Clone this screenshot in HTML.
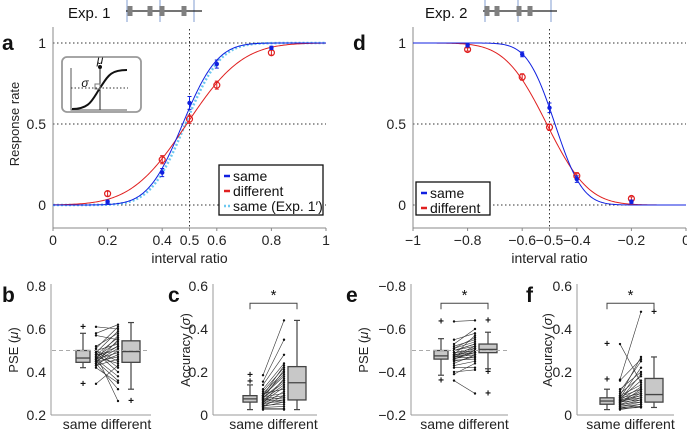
<!DOCTYPE html>
<html><head><meta charset="utf-8"><style>
body{margin:0;background:#fff;}
svg{display:block;font-family:"Liberation Sans",sans-serif;}
</style></head><body>
<svg id="fig" width="687" height="432" viewBox="0 0 687 432" xmlns="http://www.w3.org/2000/svg">
<g id="static"></g>
</svg>
<script>
// ---- Data ----
const stimA = [0.2, 0.4, 0.5, 0.6, 0.8];
const sameA = [0.02, 0.2, 0.63, 0.87, 0.97];
const sameAErr = [0.01, 0.025, 0.04, 0.025, 0.01];
const diffA = [0.07, 0.28, 0.53, 0.74, 0.94];
const diffAErr = [0.015, 0.025, 0.025, 0.025, 0.015];
const fitSameA = [0.475, 0.1];
const fitDiffA = [0.49, 0.16];
const fitSame1pA = [0.485, 0.1];
const stimD = [-0.8, -0.6, -0.5, -0.4, -0.2];
const sameD = [0.985, 0.93, 0.6, 0.16, 0.02];
const sameDErr = [0.01, 0.015, 0.03, 0.02, 0.01];
const diffD = [0.96, 0.79, 0.48, 0.18, 0.04];
const diffDErr = [0.01, 0.02, 0.02, 0.02, 0.01];
const fitSameD = [-0.48, 0.08];
const fitDiffD = [-0.51, 0.12];
const xTicksA = [0, 0.2, 0.4, 0.5, 0.6, 0.8, 1];
const xTickLabelsA = ["0","0.2","0.4","0.5","0.6","0.8","1"];
const xTicksD = [-1, -0.8, -0.6, -0.5, -0.4, -0.2, 0];
const xTickLabelsD = ["\u22121","\u22120.8","\u22120.6","\u22120.5","\u22120.4","\u22120.2","0"];
const yTicks = [0, 0.5, 1];
const yTickLabels = ["0","0.5","1"];
// box stats: [lowWhisker, q1, median, q3, highWhisker]
const boxB_same = [0.42, 0.445, 0.465, 0.5, 0.58];
const boxB_diff = [0.32, 0.445, 0.495, 0.545, 0.63];
const outB_same = [0.61, 0.345];
const outB_diff = [0.265];
const pairB_same = [0.61,0.58,0.57,0.52,0.51,0.5,0.5,0.49,0.49,0.48,0.48,0.47,0.47,0.47,0.46,0.46,0.46,0.45,0.45,0.45,0.44,0.44,0.44,0.43,0.43,0.42,0.345,0.48,0.46,0.5];
const pairB_diff = [0.6,0.62,0.55,0.58,0.61,0.53,0.45,0.59,0.4,0.56,0.5,0.54,0.52,0.44,0.57,0.49,0.38,0.51,0.47,0.36,0.48,0.55,0.32,0.5,0.46,0.35,0.43,0.265,0.52,0.42];
const boxC_same = [0.025, 0.06, 0.075, 0.09, 0.14];
const boxC_diff = [0.025, 0.07, 0.15, 0.225, 0.44];
const outC_same = [0.155, 0.185];
const outC_diff = [];
const pairC_same = [0.185,0.155,0.14,0.12,0.11,0.1,0.1,0.09,0.09,0.085,0.08,0.08,0.075,0.075,0.07,0.07,0.065,0.06,0.06,0.055,0.05,0.05,0.045,0.04,0.04,0.035,0.03,0.025,0.09,0.07];
const pairC_diff = [0.44,0.35,0.28,0.24,0.22,0.12,0.2,0.18,0.23,0.1,0.16,0.15,0.09,0.21,0.14,0.08,0.07,0.13,0.06,0.17,0.11,0.07,0.05,0.09,0.06,0.04,0.03,0.025,0.19,0.08];
const boxE_same = [-0.385, -0.46, -0.475, -0.5, -0.555];
const boxE_diff = [-0.415, -0.49, -0.505, -0.53, -0.585];
const outE_same = [-0.635, -0.36];
const outE_diff = [-0.64, -0.4, -0.3];
const pairE_same = [-0.635,-0.55,-0.53,-0.52,-0.51,-0.5,-0.5,-0.49,-0.49,-0.48,-0.48,-0.475,-0.47,-0.47,-0.465,-0.46,-0.46,-0.455,-0.45,-0.44,-0.43,-0.42,-0.4,-0.39,-0.36,-0.48,-0.5,-0.46,-0.51,-0.47];
const pairE_diff = [-0.64,-0.58,-0.6,-0.55,-0.54,-0.52,-0.53,-0.5,-0.51,-0.49,-0.5,-0.52,-0.48,-0.51,-0.47,-0.49,-0.5,-0.46,-0.47,-0.48,-0.45,-0.42,-0.41,-0.44,-0.3,-0.57,-0.53,-0.5,-0.56,-0.49];
const boxF_same = [0.025, 0.05, 0.065, 0.08, 0.12];
const boxF_diff = [0.035, 0.06, 0.095, 0.17, 0.27];
const outF_same = [0.165, 0.33];
const outF_diff = [0.48];
const pairF_same = [0.33,0.165,0.16,0.12,0.11,0.1,0.09,0.085,0.08,0.08,0.075,0.07,0.07,0.065,0.065,0.06,0.06,0.055,0.05,0.05,0.045,0.04,0.04,0.035,0.03,0.03,0.025,0.07,0.06,0.09];
const pairF_diff = [0.15,0.48,0.26,0.2,0.25,0.18,0.14,0.12,0.22,0.1,0.16,0.09,0.13,0.08,0.11,0.1,0.07,0.12,0.06,0.08,0.07,0.05,0.06,0.04,0.05,0.035,0.04,0.19,0.09,0.27];

const NS='http://www.w3.org/2000/svg';
const svg=document.getElementById('fig');
function mk(tag,attrs,parent,txt){const e=document.createElementNS(NS,tag);for(const k in attrs)e.setAttribute(k,attrs[k]);if(txt!==undefined)e.textContent=txt;(parent||svg).appendChild(e);return e;}
function erf(x){const s=Math.sign(x);x=Math.abs(x);const t=1/(1+0.3275911*x);const y=1-(((((1.061405429*t-1.453152027)*t)+1.421413741)*t-0.284496736)*t+0.254829592)*t*Math.exp(-x*x);return s*y;}
function cdf(x,m,s){return 0.5*(1+erf((x-m)/(s*Math.SQRT2)));}

// ---- Psychometric panels ----
function psyPanel(name,x0,x1,dom,xt,xtl,stim,same,sameE,diff,diffE,fits,dec){
  const g=mk('g',{});
  
  
  const X=v=>x0+(v-dom[0])/(dom[1]-dom[0])*(x1-x0);
  const Y=v=>205-v*162;
  yTicks.forEach((t,i)=>{
    const l=mk('line',{x1:x0,x2:x1,y1:Y(t),y2:Y(t),stroke:'#333','stroke-width':1,'stroke-dasharray':'1.5 2.5'},g);
    
    
    const tx=mk('text',{x:x0-7,y:Y(t)+5,'text-anchor':'end','font-size':14,fill:'#222'},g,yTickLabels[i]);
    
    
  });
  const mid=X(dom[0]+(dom[1]-dom[0])/2);
  mk('line',{x1:mid,x2:mid,y1:29,y2:228,stroke:'#333','stroke-width':1,'stroke-dasharray':'1.5 2.5'},g);
  mk('line',{x1:x0,x2:x0,y1:27,y2:228,stroke:'#888','stroke-width':1},g);
  mk('line',{x1:x0,x2:x1,y1:228,y2:228,stroke:'#888','stroke-width':1},g);
  xt.forEach((t,i)=>{
    mk('line',{x1:X(t),x2:X(t),y1:228,y2:231,stroke:'#888'},g);
    const tx=mk('text',{x:X(t),y:245,'text-anchor':'middle','font-size':14,fill:'#222'},g,xtl[i]);
    
    
  });
  const xl=mk('text',{x:(x0+x1)/2,y:263,'text-anchor':'middle','font-size':14,fill:'#222'},g,'interval ratio');
  
  
  fits.forEach(f=>{
    let d='';
    for(let i=0;i<=200;i++){const v=dom[0]+(dom[1]-dom[0])*i/200;let p=cdf(v,f.p[0],f.p[1]);if(dec)p=1-p;d+=(i?'L':'M')+X(v).toFixed(2)+','+Y(p).toFixed(2);}
    const c=mk('path',{d:d,fill:'none',stroke:f.c,'stroke-width':f.w,'stroke-dasharray':f.dash||'none'},g);
    
    
  });
  stim.forEach((s,i)=>{
    const cx=X(s);
    mk('path',{d:`M${cx-2},${Y(diff[i]-diffE[i])}h4M${cx},${Y(diff[i]-diffE[i])}V${Y(diff[i]+diffE[i])}M${cx-2},${Y(diff[i]+diffE[i])}h4`,stroke:'#e02020',fill:'none'},g);
    const p=mk('circle',{cx:cx,cy:Y(diff[i]),r:3,fill:'none',stroke:'#e02020','stroke-width':1.2},g);
    
    
    mk('path',{d:`M${cx-2},${Y(same[i]-sameE[i])}h4M${cx},${Y(same[i]-sameE[i])}V${Y(same[i]+sameE[i])}M${cx-2},${Y(same[i]+sameE[i])}h4`,stroke:'#1020e0',fill:'none'},g);
    const q=mk('circle',{cx:cx,cy:Y(same[i]),r:2.2,fill:'#1020e0'},g);
    
    
  });
  return g;
}
psyPanel('panel-a-chart',53,326,[0,1],xTicksA,xTickLabelsA,stimA,sameA,sameAErr,diffA,diffAErr,
 [{p:fitSame1pA,c:'#6cc8f0',w:2.5,dash:'2 2',n:'fit-same-exp1prime'},{p:fitDiffA,c:'#e02020',w:1,n:'fit-different'},{p:fitSameA,c:'#1020e0',w:1,n:'fit-same'}],false);
psyPanel('panel-d-chart',413,686,[-1,0],xTicksD,xTickLabelsD,stimD,sameD,sameDErr,diffD,diffDErr,
 [{p:fitDiffD,c:'#e02020',w:1,n:'fit-different'},{p:fitSameD,c:'#1020e0',w:1,n:'fit-same'}],true);

// ---- Box panels ----
function boxPanel(name,ax,y0v,y1v,yt,ytl,ylab,bx1,bx2,bs,bd,os,od,ps,pd,star,ylabX){
  const g=mk('g',{});
  
  
  const Y=v=>415-(v-y0v)/(y1v-y0v)*129;
  const xr=bx2+20;
  mk('line',{x1:ax,x2:ax,y1:284,y2:415,stroke:'#999'},g);
  mk('line',{x1:ax,x2:xr,y1:415,y2:415,stroke:'#999'},g);
  yt.forEach((t,i)=>{
    const tx=mk('text',{x:ax-5,y:Y(t)+5,'text-anchor':'end','font-size':14,fill:'#222'},g,ytl[i]);
    
    
  });
  const yl=mk('text',{x:0,y:0,'text-anchor':'middle','font-size':13,fill:'#222',transform:`translate(${ylabX},350) rotate(-90)`},g);
  yl.innerHTML=ylab;
  
  
  const xl=mk('text',{x:(bx1+bx2)/2,y:429,'text-anchor':'middle','font-size':14,fill:'#222'},g,'same different');
  
  
  const c1=bx1+13,c2=bx2-13;
  ps.forEach((v,i)=>{
    mk('line',{x1:c1,x2:c2,y1:Y(v),y2:Y(pd[i]),stroke:'#333','stroke-width':0.6},g);
    mk('circle',{cx:c1,cy:Y(v),r:1.2,fill:'#111'},g);
    mk('circle',{cx:c2,cy:Y(pd[i]),r:1.2,fill:'#111'},g);
  });
  [[bx1,bs,os,'box-same',7],[bx2,bd,od,'box-different',9]].forEach(([cx,b,o,n,hw])=>{
    const bg=mk('g',{},g);
    
    
    mk('line',{x1:cx,x2:cx,y1:Y(b[0]),y2:Y(b[4]),stroke:'#444','stroke-width':1.2},bg);
    mk('line',{x1:cx-3,x2:cx+3,y1:Y(b[0]),y2:Y(b[0]),stroke:'#444','stroke-width':1.2},bg);
    mk('line',{x1:cx-3,x2:cx+3,y1:Y(b[4]),y2:Y(b[4]),stroke:'#444','stroke-width':1.2},bg);
    const yq1=Y(b[1]),yq3=Y(b[3]);
    mk('rect',{x:cx-hw,y:Math.min(yq1,yq3),width:hw*2,height:Math.abs(yq1-yq3),fill:'#c8c8c8',stroke:'#444','stroke-width':1.3},bg);
    mk('line',{x1:cx-hw,x2:cx+hw,y1:Y(b[2]),y2:Y(b[2]),stroke:'#444','stroke-width':1.3},bg);
    o.forEach(v=>mk('text',{x:cx,y:Y(v)+3,'text-anchor':'middle','font-size':10,'font-weight':'bold',fill:'#111'},bg,'+'));
  });
  if(star){
    const sy=Y(star);
    mk('path',{d:`M${bx1},${sy+6}V${sy}H${bx2}V${sy+6}`,fill:'none',stroke:'#444'},g);
    const st=mk('text',{x:(bx1+bx2)/2,y:sy-3,'text-anchor':'middle','font-size':15,fill:'#111'},g,'*');
    
    
  }
  return {g,Y};
}
const pb=boxPanel('panel-b-chart',51,0.2,0.8,[0.2,0.4,0.6,0.8],['0.2','0.4','0.6','0.8'],'PSE (<tspan font-style="italic">μ</tspan>)',83,131,boxB_same,boxB_diff,outB_same,outB_diff,pairB_same,pairB_diff,null,18);
mk('line',{x1:52,x2:150,y1:pb.Y(0.5),y2:pb.Y(0.5),stroke:'#aaa','stroke-dasharray':'4 3'},pb.g);
boxPanel('panel-c-chart',213,0,0.6,[0,0.2,0.4,0.6],['0','0.2','0.4','0.6'],'Accuracy (<tspan font-style="italic">σ</tspan>)',250,297,boxC_same,boxC_diff,outC_same,outC_diff,pairC_same,pairC_diff,0.52,190);
const pe=boxPanel('panel-e-chart',411,-0.2,-0.8,[-0.2,-0.4,-0.6,-0.8],['\u22120.2','\u22120.4','\u22120.6','\u22120.8'],'PSE (<tspan font-style="italic">μ</tspan>)',441,488,boxE_same,boxE_diff,outE_same,outE_diff,pairE_same,pairE_diff,-0.72,368);
mk('line',{x1:412,x2:508,y1:pe.Y(-0.5),y2:pe.Y(-0.5),stroke:'#aaa','stroke-dasharray':'4 3'},pe.g);
boxPanel('panel-f-chart',577,0,0.6,[0,0.2,0.4,0.6],['0','0.2','0.4','0.6'],'Accuracy (<tspan font-style="italic">σ</tspan>)',607,654,boxF_same,boxF_diff,outF_same,outF_diff,pairF_same,pairF_diff,0.52,552);
</script>
<script>
(function(){
const svg=document.getElementById('fig');
const NS='http://www.w3.org/2000/svg';
function mk(tag,attrs,parent,txt){const e=document.createElementNS(NS,tag);for(const k in attrs)e.setAttribute(k,attrs[k]);if(txt!==undefined)e.textContent=txt;(parent||svg).appendChild(e);return e;}
[['a',2,50],['d',353,50],['b',2,302],['c',168,302],['e',346,302],['f',526,302]].forEach(([l,x,y])=>{
  const t=mk('text',{x:x,y:y,'font-size':21,'font-weight':'bold',fill:'#111'},svg,l);
  
  
});
const yl=mk('text',{x:0,y:0,'text-anchor':'middle','font-size':13,fill:'#222',transform:'translate(19,124) rotate(-90)'},svg,'Response rate');


function header(label,tx,lx0,lx1,blocks,vlines,n){
  const g=mk('g',{});
  
  
  mk('text',{x:tx,y:18,'font-size':15,fill:'#111'},g,label);
  vlines.forEach(x=>mk('line',{x1:x,x2:x,y1:0,y2:22,stroke:'#aabde0','stroke-width':1.5},g));
  mk('line',{x1:lx0,x2:lx1,y1:11,y2:11,stroke:'#222','stroke-width':1.3},g);
  blocks.forEach(x=>mk('rect',{x:x-2.5,y:6,width:5,height:10,fill:'#808080'},g));
}
header('Exp. 1',68,126,202,[130,150,162,184],[127,160,194],'exp1-timeline');
header('Exp. 2',425,483,557,[487,497,519,530],[485,518,551],'exp2-timeline');
const ig=mk('g',{});


mk('rect',{x:62,y:57,width:79,height:55,rx:5,fill:'#fff',stroke:'#999','stroke-width':1.8},ig);
mk('path',{d:'M71,68V110H127',fill:'none',stroke:'#555'},ig);
mk('line',{x1:71,x2:128,y1:88,y2:88,stroke:'#333','stroke-dasharray':'1.5 2'},ig);
mk('line',{x1:100,x2:100,y1:67,y2:110,stroke:'#222'},ig);
mk('path',{d:'M72,109C90,109 92,100 100,88S110,70 127,70',fill:'none',stroke:'#111','stroke-width':2},ig);
mk('rect',{x:95,y:84,width:5,height:5,fill:'none',stroke:'#777'},ig);
mk('circle',{cx:100,cy:67,r:2,fill:'#111'},ig);
mk('text',{x:100,y:64,'text-anchor':'middle','font-size':12,'font-style':'italic',fill:'#111'},ig,'μ');
mk('text',{x:85,y:87,'text-anchor':'middle','font-size':12,'font-style':'italic',fill:'#111'},ig,'σ');
function legend(x,y,w,h,items,n){
  const g=mk('g',{});
  
  
  mk('rect',{x:x,y:y,width:w,height:h,fill:'#fff',stroke:'#111','stroke-width':1.3},g);
  items.forEach((it,i)=>{
    const yy=y+11+i*15;
    const e=mk('g',{},g);
    
    
    mk('line',{x1:x+5,x2:x+11,y1:yy,y2:yy,stroke:it[1],'stroke-width':2.5,'stroke-dasharray':it[2]||'none'},e);
    mk('text',{x:x+14,y:yy+5,'font-size':14,fill:'#111'},e,it[0]);
  });
}
legend(219,165,104,50,[['same','#1020e0'],['different','#e02020'],['same (Exp. 1\u2032)','#6cc8f0','2 2']],'legend-a');
legend(416,182,74,33,[['same','#1020e0'],['different','#e02020']],'legend-d');
})();
</script>
</body></html>
